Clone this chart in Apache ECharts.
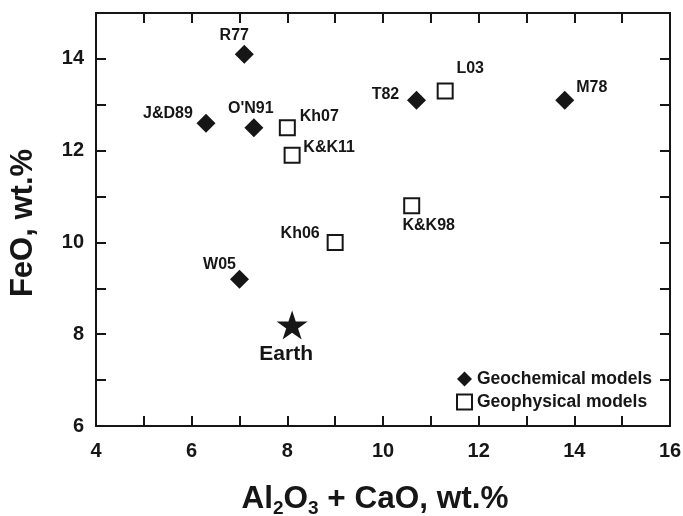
<!DOCTYPE html>
<html>
<head>
<meta charset="utf-8">
<script src="https://cdn.jsdelivr.net/npm/echarts@6/dist/echarts.min.js"></script>
<style>
  html, body { margin: 0; padding: 0; background: #fff; }
  #chart { width: 683px; height: 516px; }
</style>
</head>
<body>
<div id="chart"></div>
<script>
// Geochemical (bulk composition) models of the Moon
const geochemNames = ['R77', 'J&D89', "O'N91", 'T82', 'M78', 'W05'];
const geochemAlCa = [7.1, 6.3, 7.3, 10.7, 13.8, 7.0];
const geochemFeO = [14.1, 12.6, 12.5, 13.1, 13.1, 9.2];

// Geophysical models
const geophysNames = ['Kh07', 'K&K11', 'Kh06', 'L03', 'K&K98'];
const geophysAlCa = [8.0, 8.1, 9.0, 11.3, 10.6];
const geophysFeO = [12.5, 11.9, 10.0, 13.3, 10.8];

// Reference point: bulk silicate Earth
const earthName = 'Earth';
const earthAlCa = [8.1];
const earthFeO = [8.2];

const xTicks = [4, 6, 8, 10, 12, 14, 16];
const yTicks = [6, 8, 10, 12, 14];

// Where each point's tag sits, relative to the marker centre (px)
const tagOffset = {
  'R77': [-10, -19], 'J&D89': [-38, -10], "O'N91": [-3, -19], 'T82': [-31, -6],
  'M78': [27, -13], 'W05': [-20, -15], 'Kh07': [32, -11], 'K&K11': [37, -8],
  'Kh06': [-35, -9], 'L03': [25, -22], 'K&K98': [17, 20], 'Earth': [-6, 29]
};

// Five-pointed star outline
const STAR = 'path://M50,0 L61.23,34.55 L97.55,34.55 L68.17,55.9 L79.39,90.45 ' +
             'L50,69.1 L20.61,90.45 L31.83,55.9 L2.45,34.55 L38.77,34.55 Z';

const FONT = "'Liberation Sans', Arial, sans-serif";
const INK = '#161616';

function points(names, xs, ys) {
  return names.map((n, i) => ({
    name: n,
    value: [xs[i], ys[i]],
    label: { offset: tagOffset[n] }
  }));
}

const pointLabel = {
  show: true,
  position: 'inside',
  formatter: p => p.name,
  fontFamily: FONT,
  fontWeight: 'bold',
  fontSize: 16,
  color: INK,
  align: 'center',
  verticalAlign: 'middle'
};

const frameLine = { show: true, onZero: false, lineStyle: { color: INK, width: 2 } };
const frameTick = { show: true, inside: true, length: 10, lineStyle: { color: INK, width: 2 } };
const tickLabel = {
  fontFamily: FONT, fontWeight: 'bold', fontSize: 20, color: INK
};

const chart = echarts.init(document.getElementById('chart'), null, { renderer: 'canvas' });

chart.setOption({
  backgroundColor: '#fff',
  animation: false,
  textStyle: { fontFamily: FONT },
  grid: {
    left: 96, right: 13, top: 13, bottom: 90,
    containLabel: false, outerBoundsMode: 'none'
  },
  legend: {
    orient: 'vertical',
    left: 451,
    top: 365,
    itemWidth: 15,
    itemHeight: 15,
    itemGap: 5,
    data: [
      { name: 'Geochemical models', icon: 'diamond' },
      { name: 'Geophysical models', icon: 'rect' }
    ],
    textStyle: { fontFamily: FONT, fontWeight: 'bold', fontSize: 17.5, color: INK }
  },
  xAxis: [
    {
      type: 'value', position: 'bottom', min: 4, max: 16, interval: 1,
      axisLine: frameLine, axisTick: frameTick, splitLine: { show: false },
      axisLabel: Object.assign({}, tickLabel, {
        margin: 15,
        formatter: v => (xTicks.indexOf(v) >= 0 ? String(v) : '')
      }),
      name: '{m|Al}{s|2}{m|O}{s|3}{m| + CaO, wt.%}',
      nameLocation: 'middle',
      nameGap: 55,
      nameTextStyle: {
        padding: [0, 16, 0, 0],
        rich: {
          m: { fontFamily: FONT, fontWeight: 'bold', fontSize: 31.5, color: INK, lineHeight: 34 },
          s: { fontFamily: FONT, fontWeight: 'bold', fontSize: 19, color: INK, padding: [18, 0, 0, 0] }
        }
      }
    },
    {
      type: 'value', position: 'top', min: 4, max: 16, interval: 1,
      axisLine: frameLine, axisTick: frameTick, splitLine: { show: false },
      axisLabel: { show: false }
    }
  ],
  yAxis: [
    {
      type: 'value', position: 'left', min: 6, max: 15, interval: 1,
      axisLine: frameLine, axisTick: frameTick, splitLine: { show: false },
      axisLabel: Object.assign({}, tickLabel, {
        margin: 12,
        formatter: v => (yTicks.indexOf(v) >= 0 ? String(v) : '')
      }),
      name: 'FeO, wt.%',
      nameLocation: 'middle',
      nameGap: 57,
      nameTextStyle: {
        fontFamily: FONT, fontWeight: 'bold', fontSize: 31, color: INK,
        padding: [0, 7, 0, 0]
      }
    },
    {
      type: 'value', position: 'right', min: 6, max: 15, interval: 1,
      axisLine: frameLine, axisTick: frameTick, splitLine: { show: false },
      axisLabel: { show: false }
    }
  ],
  series: [
    {
      name: 'Geochemical models',
      type: 'scatter',
      symbol: 'diamond',
      symbolSize: 19,
      itemStyle: { color: INK, opacity: 1 },
      label: pointLabel,
      data: points(geochemNames, geochemAlCa, geochemFeO)
    },
    {
      name: 'Geophysical models',
      type: 'scatter',
      symbol: 'rect',
      symbolSize: 15,
      itemStyle: { color: '#fff', borderColor: INK, borderWidth: 2, opacity: 1 },
      label: pointLabel,
      data: points(geophysNames, geophysAlCa, geophysFeO)
    },
    {
      name: earthName,
      type: 'scatter',
      symbol: STAR,
      symbolSize: [31, 29],
      symbolKeepAspect: false,
      itemStyle: { color: INK, opacity: 1 },
      label: Object.assign({}, pointLabel, { fontSize: 21 }),
      data: points([earthName], earthAlCa, earthFeO)
    }
  ]
});
</script>
</body>
</html>
